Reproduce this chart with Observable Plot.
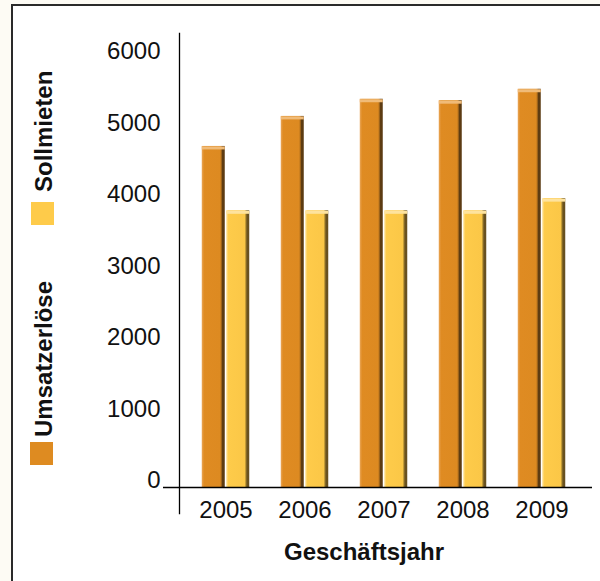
<!DOCTYPE html>
<html lang="de">
<head>
<meta charset="utf-8">
<script src="https://cdn.jsdelivr.net/npm/d3@7"></script>
<script src="https://cdn.jsdelivr.net/npm/@observablehq/plot@0.6"></script>
<style>
  html, body { margin: 0; padding: 0; }
  body { width: 600px; height: 581px; background: #fdfbf4; position: relative; overflow: hidden;
         font-family: "Liberation Sans", Arial, sans-serif; }
  #frame { position: absolute; left: 11px; top: 4px; width: 600px; height: 590px; background: #fff;
           border-left: 2px solid #2a2a2a; border-top: 2px solid #2a2a2a; box-sizing: border-box; }
  #chart { position: absolute; left: 0; top: 0; }
  .legend-text { position: absolute; transform: rotate(-90deg); transform-origin: 0 0; white-space: nowrap;
                 font: bold 24px/1 "Liberation Sans", Arial, sans-serif; color: #111; }
  .swatch { position: absolute; width: 23px; height: 23px; }
  #xtitle { position: absolute; left: 364px; top: 540px; transform: translateX(-50%); white-space: nowrap;
            font: bold 24px/1 "Liberation Sans", Arial, sans-serif; color: #111; }
</style>
</head>
<body>
<div id="frame"></div>
<div id="chart"></div>
<div class="legend-text" id="lg-soll" style="left:32px; top:192px;"></div>
<div class="swatch" id="sw-soll" style="left:31px; top:202px;"></div>
<div class="legend-text" id="lg-umsatz" style="left:32px; top:437px;"></div>
<div class="swatch" id="sw-umsatz" style="left:30px; top:442px;"></div>
<div id="xtitle"></div>
<script>
// Geschäftsjahre und Werte (Umsatzerlöse und Sollmieten)
const years = ["2005", "2006", "2007", "2008", "2009"];
const umsatzerloese = [4770, 5190, 5430, 5410, 5570];
const sollmieten = [3870, 3870, 3870, 3870, 4040];
const yTicks = [0, 1000, 2000, 3000, 4000, 5000, 6000];

const seriesNames = ["Umsatzerlöse", "Sollmieten"];
const seriesColors = ["#de8b21", "#fecb4a"];
const xTitle = "Geschäftsjahr";

const rows = years.map((year, i) => ({year, umsatz: umsatzerloese[i], soll: sollmieten[i]}));

const half = 12.25; // horizontal offset of each bar from the year's centre

const chart = Plot.plot({
  width: 600,
  height: 581,
  marginLeft: 179,
  marginRight: 8,
  marginTop: 33,
  marginBottom: 68,
  style: {background: "transparent", fontFamily: "'Liberation Sans', Arial, sans-serif", color: "#111"},
  x: {domain: years, paddingInner: 0.715, paddingOuter: 0.3575, insetLeft: 6.5, insetRight: 11.5, axis: null},
  y: {domain: [0, 6000], insetTop: 25, insetBottom: 26, axis: null},
  marks: [
    Plot.barY(rows, {x: "year", y: "umsatz", dx: -half, fill: "url(#gradOrange)"}),
    Plot.barY(rows, {x: "year", y: "soll", dx: half, fill: "url(#gradYellow)"}),
    Plot.tickY(rows, {x: "year", y: "umsatz", dx: -half, dy: 1.5, stroke: "#f0bb78", strokeWidth: 3}),
    Plot.tickY(rows, {x: "year", y: "soll", dx: half, dy: 1.5, stroke: "#fee39e", strokeWidth: 3}),
    Plot.ruleY([0], {insetLeft: -16, stroke: "#000", strokeWidth: 1.5}),
    Plot.frame({anchor: "left", stroke: "#000", strokeWidth: 1.3}),
    Plot.axisY(yTicks, {tickSize: 0, tickPadding: 19, dy: -7, fontSize: 24, tickFormat: d => String(d), label: null}),
    Plot.axisX({tickSize: 0, tickPadding: 0, dy: -13, fontSize: 24, label: null})
  ]
});

// bar shading: light left edge, dark right side
const defs = d3.select(chart).insert("defs", ":first-child");
function addGradient(id, stops) {
  const g = defs.append("linearGradient").attr("id", id)
    .attr("x1", 0).attr("x2", 1).attr("y1", 0).attr("y2", 0);
  stops.forEach(([o, c]) => g.append("stop").attr("offset", o).attr("stop-color", c));
}
addGradient("gradOrange", [[0, "#eaa75a"], [0.1, "#df8b22"], [0.8, "#dd8a21"], [0.86, "#9a6119"], [0.9, "#5e3c12"], [1, "#5a3a12"]]);
addGradient("gradYellow", [[0, "#fde29a"], [0.1, "#fecb4a"], [0.8, "#fbc747"], [0.86, "#a0802c"], [0.9, "#6a5220"], [1, "#665020"]]);

document.getElementById("chart").append(chart);

document.getElementById("lg-soll").textContent = seriesNames[1];
document.getElementById("lg-umsatz").textContent = seriesNames[0];
document.getElementById("sw-soll").style.background = seriesColors[1];
document.getElementById("sw-umsatz").style.background = seriesColors[0];
document.getElementById("xtitle").textContent = xTitle;
</script>
</body>
</html>
